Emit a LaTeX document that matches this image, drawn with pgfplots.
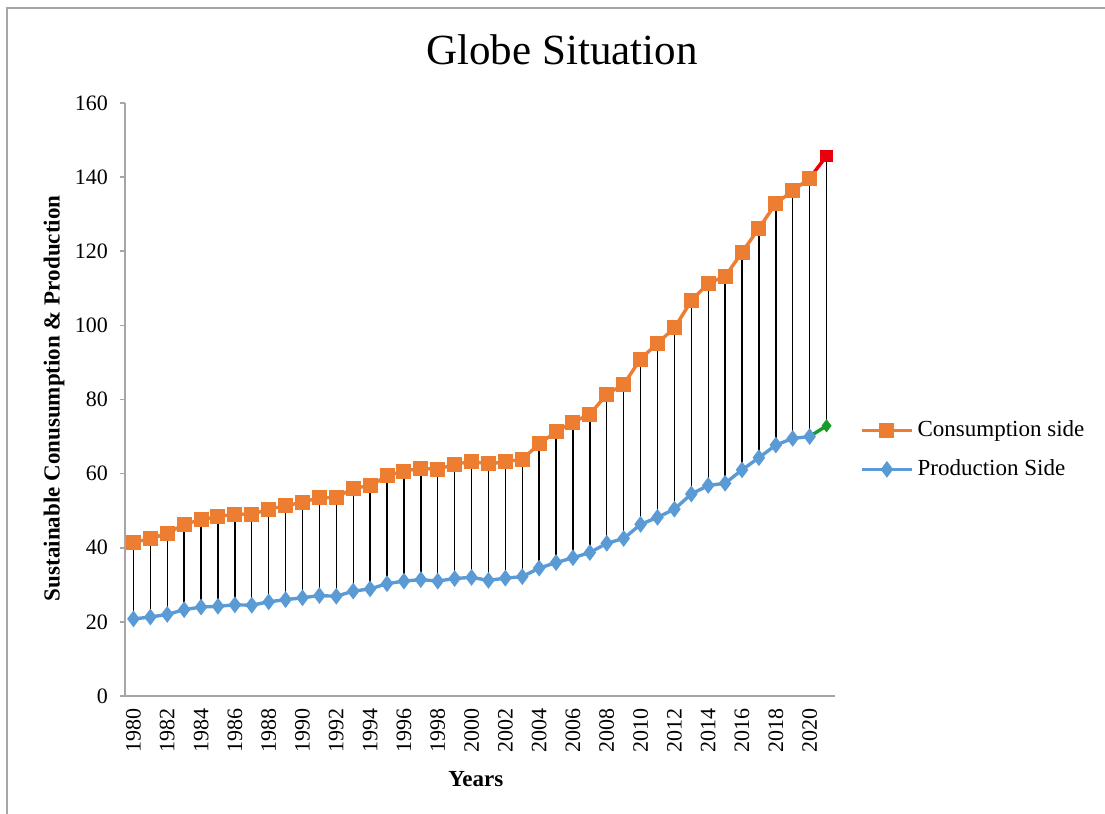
\documentclass[border=0pt]{standalone}
\usepackage{pgfplots}
\usepackage{pgfplotstable}
\pgfplotsset{compat=1.18}
\usepackage{fontspec}
\setmainfont{Liberation Serif}
\definecolor{consC}{HTML}{ED7D31}
\definecolor{prodC}{HTML}{5B9BD5}
\definecolor{lastC}{HTML}{E8000B}
\definecolor{lastP}{HTML}{1A9A2A}
\definecolor{axC}{HTML}{A6A6A6}

\pgfplotstableread{
year cons prod
1980 41.5 20.8
1981 42.4 21.3
1982 43.9 22.0
1983 46.3 23.3
1984 47.6 24.0
1985 48.4 24.2
1986 49.1 24.6
1987 49.0 24.5
1988 50.4 25.4
1989 51.3 26.0
1990 52.3 26.5
1991 53.5 27.1
1992 53.5 26.9
1993 56.1 28.3
1994 56.7 28.9
1995 59.4 30.3
1996 60.7 31.0
1997 61.4 31.4
1998 61.2 31.0
1999 62.5 31.7
2000 63.3 32.0
2001 62.6 31.2
2002 63.2 31.8
2003 63.9 32.2
2004 68.0 34.5
2005 71.3 36.0
2006 73.9 37.3
2007 76.0 38.7
2008 81.4 41.2
2009 84.1 42.5
2010 90.9 46.3
2011 95.2 48.2
2012 99.3 50.4
2013 106.6 54.5
2014 111.4 56.8
2015 113.2 57.4
2016 119.7 61.0
2017 126.2 64.3
2018 132.9 67.7
2019 136.3 69.5
2020 139.7 70.0
2021 145.7 72.9
}\data

\begin{document}
\begin{tikzpicture}
\begin{axis}[
  at={(0,0)}, anchor=south west,
  scale only axis, width=355pt, height=296.5pt,
  xmin=1979.5, xmax=2021.5, ymin=0, ymax=160,
  axis x line*=bottom, axis y line*=left,
  axis line style={axC, line width=0.8pt, -},
  xtick={1980,1982,...,2020},
  ytick={0,20,...,160},
  major x tick style={draw=none},
  major y tick style={axC, line width=0.8pt},
  ytick pos=left, tick align=outside, major tick length=2.5pt,
  /pgf/number format/1000 sep={},
  /pgf/number format/assume math mode=true,
  tick label style={font=\fontsize{11}{13}\selectfont},
  xticklabel style={rotate=90, anchor=east},
  yticklabel style={xshift=-2.5pt},
  title={Globe Situation},
  title style={font=\fontsize{21.5}{26}\selectfont, at={(0.6155,1)}, anchor=base, yshift=13pt},
  xlabel={\textbf{Years}},
  xlabel style={font=\fontsize{11.5}{14}\selectfont, at={(axis description cs:0.494,0)}, anchor=base, yshift=-45.5pt},
  ylabel={\textbf{Sustainable Conusumption \& Production}},
  ylabel style={font=\fontsize{11.5}{14}\selectfont, at={(axis description cs:-0.1,0.502)}, anchor=center},
  legend style={at={(axis description cs:1.035,0.415)}, anchor=west, draw=none, fill=none,
    font=\fontsize{11.5}{14}\selectfont, row sep=6pt, inner sep=0pt},
  legend cell align=left,
  legend image code/.code={\draw[mark repeat=2,mark phase=2,#1] plot coordinates {(0pt,0pt) (12.5pt,0pt) (25pt,0pt)};},
  clip=false,
]
\addplot[consC, line width=1.7pt, mark=square*, mark size=2.9pt, mark options={solid}, restrict x to domain=1979:2020.5]
  table[x=year, y=cons] {\data};
\addlegendentry{Consumption side}
\addplot[prodC, line width=1.7pt, mark=diamond*, mark size=2.8pt, mark options={solid}, restrict x to domain=1979:2020.5]
  table[x=year, y=prod] {\data};
\addlegendentry{Production Side}
\addplot[lastC, line width=1.7pt, forget plot, restrict x to domain=2019.5:2021.5] table[x=year, y=cons] {\data};
\addplot[lastC, only marks, mark=square*, mark size=2.9pt, forget plot, restrict x to domain=2020.5:2021.5] table[x=year, y=cons] {\data};
\addplot[lastP, line width=1.7pt, forget plot, restrict x to domain=2019.5:2021.5] table[x=year, y=prod] {\data};
\addplot[lastP, only marks, mark=diamond*, mark size=3pt, forget plot, restrict x to domain=2020.5:2021.5] table[x=year, y=prod] {\data};
\addplot[draw=none, mark=none, forget plot,
  error bars/.cd, y dir=plus, y explicit, error mark=none,
  error bar style={draw=black, line width=0.7pt}]
  table[x=year, y=prod, y error expr=\thisrow{cons}-\thisrow{prod}] {\data};
\end{axis}
\pgfresetboundingbox
\useasboundingbox (-62.5pt,-59pt) rectangle (490pt,348pt);
\draw[axC, line width=0.8pt] (-59pt,-59pt) -- (-59pt,344pt) -- (490pt,344pt);
\end{tikzpicture}
\end{document}
